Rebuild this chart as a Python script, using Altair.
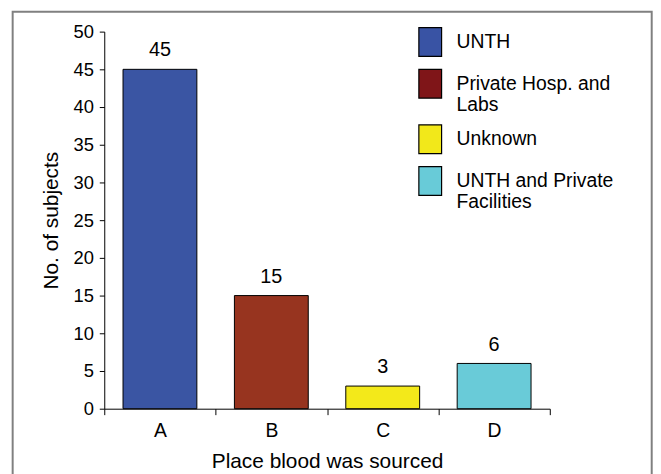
import altair as alt
import pandas as pd

categories = ["A", "B", "C", "D"]
values = [45, 15, 3, 6]
sources = ["UNTH", "Private Hosp. and|Labs", "Unknown", "UNTH and Private|Facilities"]
bar_colors = ["#3A55A3", "#97341F", "#F3E91A", "#69CBD8"]
legend_colors = ["#3953A4", "#7F1518", "#F2E81A", "#68CBD8"]
y_ticks = [0, 5, 10, 15, 20, 25, 30, 35, 40, 45, 50]

df = pd.DataFrame({"category": categories, "value": values, "source": sources})

FONT = "Liberation Sans"

x_axis = alt.Axis(
    title="Place blood was sourced",
    labelAngle=0,
    tickBand="extent",
    tickSize=6,
    labelPadding=7,
    titlePadding=11,
    labelFont=FONT,
    labelFontSize=19.5,
    titleFont=FONT,
    titleFontSize=21,
    titleFontWeight="normal",
    domainColor="black",
    tickColor="black",
    labelColor="black",
    titleColor="black",
)
y_axis = alt.Axis(
    title="No. of subjects",
    values=y_ticks,
    grid=False,
    tickSize=5,
    labelPadding=6,
    titlePadding=12,
    labelFont=FONT,
    labelFontSize=18.5,
    titleFont=FONT,
    titleFontSize=21,
    titleFontWeight="normal",
    domainColor="black",
    tickColor="black",
    labelColor="black",
    titleColor="black",
)

x_enc = alt.X(
    "category:N",
    scale=alt.Scale(domain=categories, paddingInner=0, paddingOuter=0),
    axis=x_axis,
)
y_enc = alt.Y("value:Q", scale=alt.Scale(domain=[0, 50]), axis=y_axis)

base = alt.Chart(df)

bars = base.mark_bar(
    width=alt.RelativeBandSize(0.663), stroke="black", strokeWidth=1
).encode(
    x=x_enc,
    y=y_enc,
    fill=alt.Fill(
        "category:N",
        scale=alt.Scale(domain=categories, range=bar_colors),
        legend=None,
    ),
)

legend_layer = base.mark_bar(width=alt.RelativeBandSize(0.663)).encode(
    x=x_enc,
    y=y_enc,
    y2=alt.Y2("value:Q"),
    fill=alt.Fill(
        "source:N",
        scale=alt.Scale(domain=sources, range=legend_colors),
        legend=alt.Legend(
            title=None,
            orient="none",
            legendX=313,
            legendY=-5,
            padding=0,
            labelExpr="split(datum.label, '|')",
            labelFont=FONT,
            labelFontSize=19.5,
            labelColor="black",
            labelLimit=300,
            labelOffset=11,
            rowPadding=7,
            symbolType="M-0.79,-1H0.79V1H-0.79Z",
            symbolSize=841,
            symbolStrokeColor="black",
            symbolStrokeWidth=1.2,
            symbolOpacity=1,
        ),
    ),
)

labels = base.mark_text(
    dy=-13, baseline="alphabetic", fontSize=20, font=FONT, color="black"
).encode(x=x_enc, y=y_enc, text=alt.Text("value:Q"))

border = alt.Chart(pd.DataFrame({"k": [0]})).mark_rect(
    filled=False, stroke="#808080", strokeWidth=2
).encode(
    x=alt.value(-92.3), x2=alt.value(551.7), y=alt.value(-20), y2=alt.value(470)
)

chart = (
    alt.layer(border, bars, legend_layer, labels)
    .resolve_scale(fill="independent")
    .properties(
        width=449,
        height=380,
        autosize=alt.AutoSizeParams(type="none"),
        padding={"left": 97, "top": 22, "right": 104, "bottom": 64},
        background="white",
    )
    .configure_view(stroke=None)
    .configure_axis(domainWidth=1, tickWidth=1)
)

chart.save("out.html", embed_options={"renderer": "svg", "actions": False})
